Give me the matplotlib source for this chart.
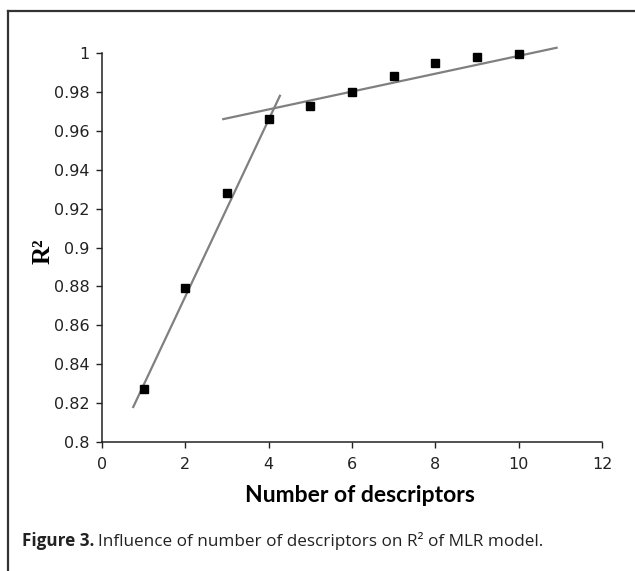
import matplotlib
matplotlib.use('Agg')
import matplotlib.pyplot as plt
from matplotlib.lines import Line2D

# data
n_desc = [1, 2, 3, 4, 5, 6, 7, 8, 9, 10]
r2 = [0.827, 0.879, 0.928, 0.966, 0.973, 0.980, 0.988, 0.995, 0.998, 0.9993]

# the two fitted trend lines (end points)
fit1_x = [0.75, 4.27]
fit1_y = [0.818, 0.978]
fit2_x = [2.91, 10.91]
fit2_y = [0.966, 1.0027]

x_ticks = [0, 2, 4, 6, 8, 10, 12]
y_ticks = [0.8, 0.82, 0.84, 0.86, 0.88, 0.9, 0.92, 0.94, 0.96, 0.98, 1]
y_tick_labels = ['0.8', '0.82', '0.84', '0.86', '0.88', '0.9', '0.92',
                 '0.94', '0.96', '0.98', '1']

fig = plt.figure(figsize=(6.35, 5.71), dpi=100)

# frame: only top and left edges are visible
fig.add_artist(Line2D([8/635, 1], [1 - 11/571, 1 - 11/571], color='#333333', lw=1.6))
fig.add_artist(Line2D([8/635, 8/635], [0, 1 - 11/571], color='#333333', lw=1.6))

ax = fig.add_axes([102/635, 1 - 442/571, 500/635, 389/571])
ax.plot(fit1_x, fit1_y, color='#808080', lw=1.6, zorder=2, clip_on=False)
ax.plot(fit2_x, fit2_y, color='#808080', lw=1.6, zorder=2, clip_on=False)
ax.plot(n_desc, r2, ls='none', marker='s', ms=6, color='black', zorder=3,
        clip_on=False)

ax.set_xlim(0, 12)
ax.set_ylim(0.8, 1)
ax.set_xticks(x_ticks)
ax.set_yticks(y_ticks)
ax.set_yticklabels(y_tick_labels)
ax.tick_params(direction='out', length=4, width=1, labelsize=11.5, colors='#222222')
ax.tick_params(axis='y', pad=5)
ax.tick_params(axis='x', pad=7)
for s in ['top', 'right']:
    ax.spines[s].set_visible(False)
for s in ['left', 'bottom']:
    ax.spines[s].set_linewidth(1.1)
    ax.spines[s].set_color('#222222')

ax.set_xlabel('Number of descriptors', fontsize=16.5, fontweight='bold',
              family=['Lato', 'DejaVu Sans'])
ax.xaxis.set_label_coords(0.515, -0.137, transform=ax.transAxes)
ax.xaxis.label.set_va('center')
ax.set_ylabel('R²', fontsize=18, fontweight='bold',
              family=['Liberation Serif', 'DejaVu Serif'])
ax.yaxis.set_label_coords(-0.118, 0.49, transform=ax.transAxes)
ax.yaxis.label.set_va('center')

cap_font = ['Liberation Sans Narrow', 'Open Sans', 'DejaVu Sans']
t1 = fig.text(22/635, 1 - 541/571, 'Figure 3.', fontsize=12.3, fontweight='bold',
              family=cap_font, va='center', color='#222222')
fig.canvas.draw()
bb = t1.get_window_extent()
fig.text(bb.x1 / fig.bbox.width + 0.006, 1 - 541/571,
         'Influence of number of descriptors on R² of MLR model.',
         fontsize=12.3, family=cap_font, va='center', color='#222222')

fig.savefig('out.png', dpi=100)
